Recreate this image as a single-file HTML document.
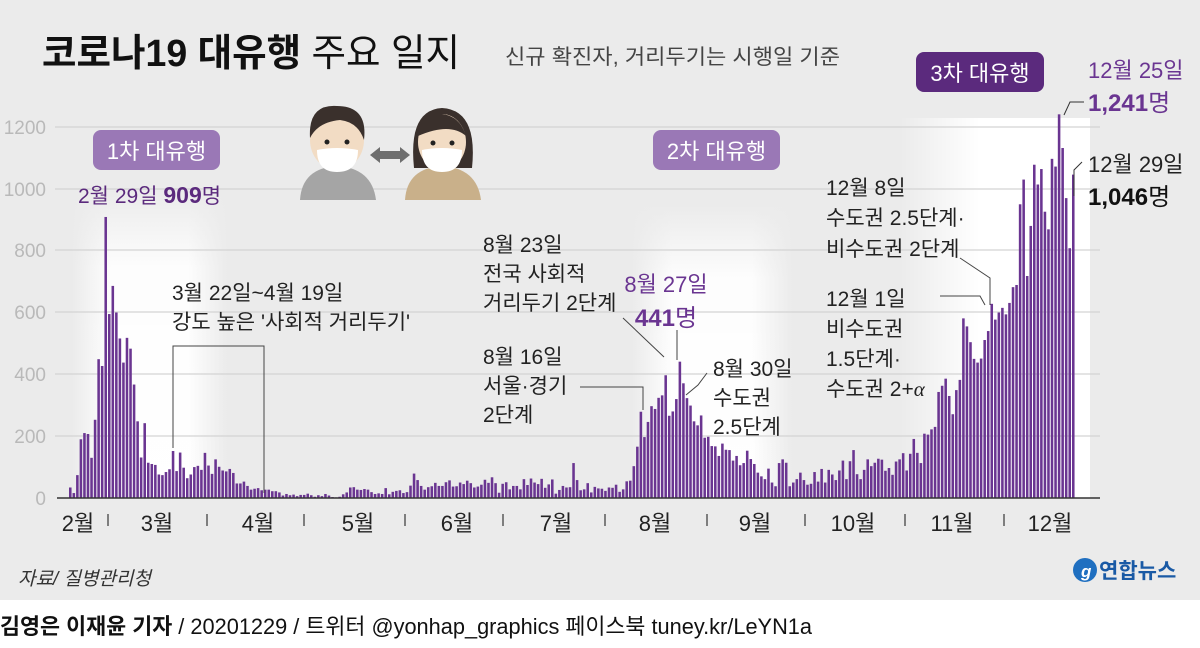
<!DOCTYPE html>
<html><head><meta charset="utf-8">
<style>
html,body{margin:0;padding:0;}
body{width:1200px;height:643px;overflow:hidden;background:#fff;font-family:"Liberation Sans","Noto Sans CJK KR",sans-serif;}
svg text{font-family:"Liberation Sans","Noto Sans CJK KR",sans-serif;}
</style></head><body>
<svg id="s" width="1200" height="643" viewBox="0 0 1200 643" xmlns="http://www.w3.org/2000/svg">
<defs>
<linearGradient id="band" x1="0" y1="0" x2="0" y2="1">
<stop offset="0" stop-color="#fff" stop-opacity="0"/>
<stop offset="0.25" stop-color="#fff" stop-opacity="0.9"/>
<stop offset="1" stop-color="#fff" stop-opacity="1"/>
</linearGradient>
<linearGradient id="bandh" x1="0" y1="0" x2="1" y2="0">
<stop offset="0" stop-color="#ebebeb" stop-opacity="1"/>
<stop offset="0.25" stop-color="#ebebeb" stop-opacity="0"/>
<stop offset="0.75" stop-color="#ebebeb" stop-opacity="0"/>
<stop offset="1" stop-color="#ebebeb" stop-opacity="1"/>
</linearGradient>
<linearGradient id="bandl" x1="0" y1="0" x2="1" y2="0">
<stop offset="0" stop-color="#ebebeb" stop-opacity="1"/>
<stop offset="1" stop-color="#ebebeb" stop-opacity="0"/>
</linearGradient>
</defs>
<rect x="0" y="0" width="1200" height="600" fill="#ebebeb"/>
<rect x="72" y="190" width="155" height="308" fill="url(#band)"/>
<rect x="72" y="190" width="155" height="308" fill="url(#bandh)"/>
<rect x="632" y="205" width="160" height="293" fill="url(#band)"/>
<rect x="632" y="205" width="160" height="293" fill="url(#bandh)"/>
<rect x="900" y="118" width="190" height="380" fill="#fff"/>
<rect x="900" y="118" width="80" height="380" fill="url(#bandl)"/>
<g stroke="#d4d4d4" stroke-width="1.2">
<line x1="55" y1="127" x2="1100" y2="127"/>
<line x1="55" y1="189" x2="1100" y2="189"/>
<line x1="55" y1="250" x2="1100" y2="250"/>
<line x1="55" y1="312" x2="1100" y2="312"/>
<line x1="55" y1="374" x2="1100" y2="374"/>
<line x1="55" y1="436" x2="1100" y2="436"/>
</g>
<g fill="#b9b9b9" font-size="19" text-anchor="end">
<text x="46" y="134">1200</text><text x="46" y="196">1000</text>
<text x="46" y="257">800</text><text x="46" y="319">600</text>
<text x="46" y="381">400</text><text x="46" y="443">200</text>
<text x="46" y="505">0</text>
</g>
<g id="bars" fill="#6a3591"></g>
<line x1="57" y1="498" x2="1100" y2="498" stroke="#333" stroke-width="1.5"/>
<g font-size="22" fill="#222" text-anchor="middle">
<text x="78" y="531">2월</text><text x="157" y="531">3월</text><text x="258" y="531">4월</text>
<text x="358" y="531">5월</text><text x="457" y="531">6월</text><text x="556" y="531">7월</text>
<text x="655" y="531">8월</text><text x="755" y="531">9월</text><text x="853" y="531">10월</text>
<text x="952" y="531">11월</text><text x="1050" y="531">12월</text>
</g>
<g stroke="#444" stroke-width="1.3">
<line x1="108" y1="514" x2="108" y2="526"/><line x1="207" y1="514" x2="207" y2="526"/>
<line x1="304" y1="514" x2="304" y2="526"/><line x1="405" y1="514" x2="405" y2="526"/>
<line x1="503" y1="514" x2="503" y2="526"/><line x1="605" y1="514" x2="605" y2="526"/>
<line x1="707" y1="514" x2="707" y2="526"/><line x1="805" y1="514" x2="805" y2="526"/>
<line x1="905" y1="514" x2="905" y2="526"/><line x1="1004" y1="514" x2="1004" y2="526"/>
</g>
<text x="42" y="66" font-size="38" fill="#111" textLength="418" lengthAdjust="spacingAndGlyphs"><tspan font-weight="bold">코로나19 대유행</tspan> 주요 일지</text>
<text x="505" y="64" font-size="21" fill="#444" textLength="335" lengthAdjust="spacingAndGlyphs">신규 확진자, 거리두기는 시행일 기준</text>
<rect x="93" y="130" width="127" height="40" rx="8" fill="#9a78b6"/>
<text x="156.5" y="159" font-size="22" fill="#fff" text-anchor="middle">1차 대유행</text>
<rect x="653" y="130" width="127" height="40" rx="8" fill="#9a78b6"/>
<text x="716.5" y="159" font-size="22" fill="#fff" text-anchor="middle">2차 대유행</text>
<rect x="916" y="52" width="128" height="40" rx="8" fill="#5b2a7d"/>
<text x="980" y="81" font-size="22" fill="#fff" text-anchor="middle">3차 대유행</text>
<text x="78" y="203" font-size="21" fill="#5b2a7d">2월 29일 <tspan font-weight="bold" font-size="23">909</tspan>명</text>
<text x="1088" y="78" font-size="22" fill="#6a3591">12월 25일</text>
<text x="1088" y="111" font-size="24" fill="#6a3591"><tspan font-weight="bold">1,241</tspan>명</text>
<polyline points="1064,115 1070,102 1084,102" fill="none" stroke="#333" stroke-width="1"/>
<text x="1088" y="172" font-size="22" fill="#222">12월 29일</text>
<text x="1088" y="205" font-size="24" fill="#111"><tspan font-weight="bold">1,046</tspan>명</text>
<polyline points="1074,196 1074,170 1082,162" fill="none" stroke="#333" stroke-width="1"/>
<g font-size="21" fill="#222">
<text x="172" y="300">3월 22일~4월 19일</text>
<text x="172" y="329">강도 높은 '사회적 거리두기'</text>
<text x="483" y="252">8월 23일</text>
<text x="483" y="281">전국 사회적</text>
<text x="483" y="310">거리두기 2단계</text>
<text x="483" y="364">8월 16일</text>
<text x="483" y="393">서울·경기</text>
<text x="483" y="422">2단계</text>
<text x="713" y="376">8월 30일</text>
<text x="713" y="405">수도권</text>
<text x="713" y="434">2.5단계</text>
<text x="826" y="195">12월 8일</text>
<text x="826" y="225">수도권 2.5단계·</text>
<text x="826" y="256">비수도권 2단계</text>
<text x="826" y="306">12월 1일</text>
<text x="826" y="336">비수도권</text>
<text x="826" y="366">1.5단계·</text>
<text x="826" y="396">수도권 2+<tspan font-style="italic" font-family="Liberation Serif">α</tspan></text>
</g>
<text x="666" y="292" font-size="22" fill="#6a3591" text-anchor="middle">8월 27일</text>
<text x="666" y="326" font-size="24" fill="#6a3591" text-anchor="middle"><tspan font-weight="bold">441</tspan>명</text>
<g stroke="#444" stroke-width="1" fill="none">
<polyline points="173,448 173,346 264,346 264,493"/>
<polyline points="580,387 643,387 643,410"/>
<polyline points="623,318 664,357"/>
<polyline points="677,330 677,360"/>
<polyline points="707,373 698,385 686,395"/>
<polyline points="960,258 990,278 990,305"/>
<polyline points="940,296 980,296 985,305"/>
</g>
<g>
<path d="M300,200 Q302,168 337,166 Q372,168 376,200 Z" fill="#a5a5a5"/>
<ellipse cx="337" cy="140" rx="27" ry="30" fill="#f2dcc4"/>
<path d="M310,138 Q308,104 337,106 Q368,106 364,140 Q358,122 340,120 Q318,122 310,138 Z" fill="#3a302c"/>
<circle cx="327" cy="142" r="2.5" fill="#222"/><circle cx="347" cy="142" r="2.5" fill="#222"/>
<path d="M317,150 Q337,146 358,150 Q358,172 337,172 Q317,172 317,150 Z" fill="#fff"/>
<path d="M370,155 L380,147 L380,151 L400,151 L400,147 L410,155 L400,163 L400,159 L380,159 L380,163 Z" fill="#6e6e6e"/>
<path d="M405,200 Q407,168 442,166 Q477,168 481,200 Z" fill="#c9b08a"/>
<path d="M414,168 Q408,110 442,108 Q478,110 472,168 Z" fill="#3a302c"/>
<ellipse cx="442" cy="142" rx="24" ry="28" fill="#f2dcc4"/>
<path d="M418,136 Q420,112 442,114 Q460,116 466,136 Q450,122 418,136 Z" fill="#3a302c"/>
<circle cx="433" cy="143" r="2.5" fill="#222"/><circle cx="452" cy="143" r="2.5" fill="#222"/>
<path d="M422,150 Q442,146 462,150 Q462,172 442,172 Q422,172 422,150 Z" fill="#fff"/>
</g>
<text x="18" y="585" font-size="19" fill="#333" font-style="italic">자료/ 질병관리청</text>
<circle cx="1085" cy="570" r="12" fill="#1f6fc0"/>
<text x="1081" y="577" font-size="17" fill="#fff" font-style="italic" font-weight="bold">g</text>
<text x="1099" y="578" font-size="21" fill="#1a5aa5" font-weight="bold">연합뉴스</text>
<text x="0" y="634" font-size="22" fill="#111" textLength="812" lengthAdjust="spacingAndGlyphs"><tspan font-weight="bold">김영은 이재윤 기자</tspan> / 20201229 / 트위터 @yonhap_graphics  페이스북 tuney.kr/LeYN1a</text>
</svg>
<script>
var d=[34,16,74,190,210,207,130,253,449,427,909,595,686,600,516,438,518,483,367,248,131,242,114,110,107,76,74,84,93,152,87,147,98,64,76,100,104,91,146,105,78,125,101,89,86,94,81,47,47,53,39,27,30,32,25,27,27,22,22,18,8,13,9,11,6,10,10,14,9,4,9,6,13,8,3,2,4,12,18,34,35,27,26,29,27,19,13,15,13,32,12,20,23,25,16,19,40,79,58,39,27,35,38,49,39,39,51,57,37,38,50,45,56,48,34,37,43,59,49,67,48,17,46,51,28,39,39,28,61,42,63,50,45,62,33,44,60,14,26,39,34,35,113,58,25,28,48,18,36,31,30,23,34,33,43,20,28,54,56,103,166,279,197,246,297,288,324,332,397,266,280,320,441,371,323,299,248,235,267,195,198,168,167,136,176,156,155,121,136,106,113,153,126,110,82,70,61,95,50,38,113,125,114,38,50,61,82,58,43,46,84,53,94,50,91,76,58,89,121,61,119,155,77,61,91,125,103,114,127,124,88,97,75,118,125,145,89,143,191,146,113,208,205,222,230,343,363,386,330,271,349,382,581,555,504,450,438,451,511,540,628,577,600,615,594,631,682,689,950,1030,718,880,1078,1014,1064,926,869,1097,1072,1241,1132,970,808,1046];
var g=document.getElementById('bars'),ns='http://www.w3.org/2000/svg';
var x0=69,x1=1072,s=(x1-x0)/(d.length-1),k=371/1200;
for(var i=0;i<d.length;i++){var hh=d[i]*k;var r=document.createElementNS(ns,'rect');
r.setAttribute('x',(x0+i*s).toFixed(2));r.setAttribute('y',(498-hh).toFixed(2));
r.setAttribute('width',(s*0.72).toFixed(2));r.setAttribute('height',hh.toFixed(2));g.appendChild(r);}
</script>
</body></html>
